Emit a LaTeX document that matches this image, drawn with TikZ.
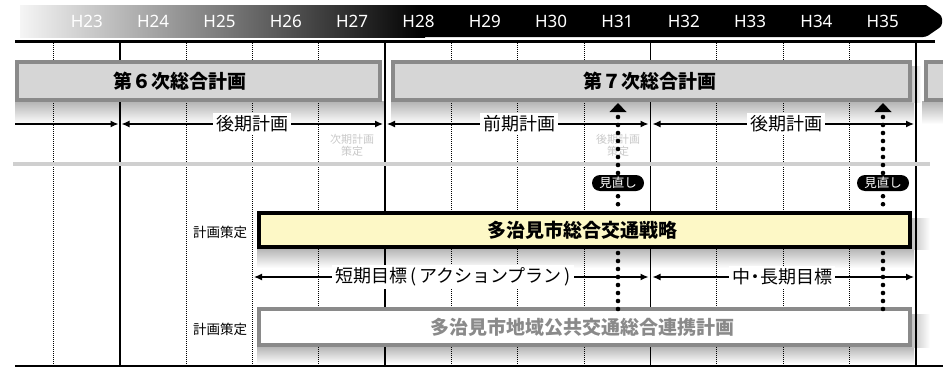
\documentclass[tikz,border=0pt]{standalone}
\usepackage{fontspec}
\setmainfont{Noto Sans CJK JP}
\newfontfamily\latinf{Noto Sans}
\usetikzlibrary{arrows.meta}
\definecolor{boxgrey}{HTML}{D6D6D6}
\definecolor{bordergrey}{HTML}{8A8A8A}
\definecolor{paleyellow}{HTML}{FDF8C6}
\definecolor{fadetext}{HTML}{C8C8C8}
\tikzset{
  yearlbl/.style={text=white,font=\latinf\fontsize{17}{17}\selectfont,inner sep=0pt},
  solidcol/.style={line width=1.3pt},
  majorcol/.style={line width=2.6pt},
  dotcol/.style={line width=1pt,dash pattern=on 1pt off 1pt},
  shadebelow/.style={top color=black!30,bottom color=white},
  shaderight/.style={left color=black!25,right color=white},
  planbox/.style={draw=bordergrey,fill=boxgrey,line width=4pt,inner sep=0pt},
  yellowbox/.style={draw=black,fill=paleyellow,line width=4pt,inner sep=0pt},
  greybox/.style={draw=bordergrey,fill=white,line width=4pt,inner sep=0pt},
  titletxt/.style={font=\fontsize{19}{19}\selectfont\bfseries,inner sep=0pt},
  spanlbl/.style={fill=white,font=\fontsize{18}{18}\selectfont,inner sep=3pt},
  arr/.style={line width=1.3pt,-{Latex[length=8pt,width=7pt]}},
  darr/.style={line width=1.3pt,{Latex[length=8pt,width=7pt]}-{Latex[length=8pt,width=7pt]}},
  bigdots/.style={line width=4.6pt,line cap=round,dash pattern=on 0pt off 8pt},
  badge/.style={fill=black,text=white,rounded corners=8pt,minimum width=52pt,minimum height=16pt,
     inner sep=0pt,font=\fontsize{12.5}{12.5}\selectfont},
  smalllbl/.style={font=\fontsize{13.5}{13.5}\selectfont,inner sep=0pt},
  fadelbl/.style={text=fadetext,font=\fontsize{11}{12}\selectfont,align=center,inner sep=0pt}
}
\begin{document}
\begin{tikzpicture}[x=1pt,y=-1pt]
\useasboundingbox (0,0) rectangle (943,367);
\clip (0,0) rectangle (943,367);
% header band
\shade[left color=gray!8,right color=black] (20,5) rectangle (425,37);
\fill[black] (420,5) -- (926,5) [rounded corners=3pt] -- (942,16) -- (942,26) -- (926,37) [sharp corners] -- (420,37) -- cycle;
\foreach \yy [count=\i from 0] in {23,...,35}
  \node[yearlbl] (h\yy) at (86.8+\i*66.33,21) {H\yy};
% top and bottom rules
\draw[line width=3pt] (15,41.5) -- (935,41.5);
\draw[line width=2pt] (15,366) -- (943,366);
% soft shadows below and right of boxes
\shade[shadebelow] (15,101) rectangle (384,124);
\shade[shadebelow] (391,101) rectangle (914,124);
\shade[shadebelow] (922,101) rectangle (943,124);
\shade[shaderight] (911,66) rectangle (921,102);
\shade[shadebelow] (257,248) rectangle (914,268);
\shade[shaderight] (911,218) rectangle (930,249);
\shade[shadebelow] (257,346) rectangle (914,364);
\shade[shaderight] (911,314) rectangle (930,347);
% column lines
\foreach \c in {0,2,3,4,6,7,8,10,11,12}
  \draw[dotcol] (53.5+\c*66.33,43) -- (53.5+\c*66.33,365);
\draw[solidcol] (120,43) -- (120,365);
\draw[solidcol] (650.5,43) -- (650.5,365);
\draw[majorcol] (385,43) -- (385,365);
\draw[majorcol] (916,43) -- (916,365);
% grey separator
\draw[line width=4pt,gray!38] (13,164) -- (930,164);
% plan boxes
\node[planbox,minimum width=363pt,minimum height=38pt] (p6) at (198.5,81) {};
\node[titletxt] (p6t) at (180,81) {第６次総合計画};
\node[planbox,minimum width=517pt,minimum height=38pt] (p7) at (651.5,81) {};
\node[titletxt] (p7t) at (650,81) {第７次総合計画};
\node[planbox,minimum width=200pt,minimum height=38pt,anchor=west] (p8) at (924,81) {};
% span arrows row 1
\coordinate (s0) at (15,124);
\coordinate (s1) at (118.5,124);
\coordinate (s2) at (121.5,124);
\coordinate (s3) at (383,124);
\coordinate (s4) at (387,124);
\coordinate (s5) at (648.5,124);
\coordinate (s6) at (652.5,124);
\coordinate (s7) at (914,124);
\draw[arr] (s0) -- (s1);
\draw[darr] (s2) -- (s3);
\node[spanlbl] (l1) at (252,124) {後期計画};
\draw[darr] (s4) -- (s5);
\node[spanlbl] (l2) at (519,124) {前期計画};
\draw[darr] (s6) -- (s7);
\node[spanlbl] (l3) at (786,124) {後期計画};
\node[fadelbl] (f1) at (352,145) {次期計画\\策定};
\node[fadelbl] (f2) at (618,145) {後期計画\\策定};
% strategy boxes
\node[yellowbox,minimum width=651pt,minimum height=34pt] (ys) at (584.5,230) {};
\node[titletxt] (yst) at (582,230) {多治見市総合交通戦略};
\node[smalllbl] (c1) at (220,232) {計画策定};
\node[greybox,minimum width=651pt,minimum height=36pt] (gs) at (584.5,327) {};
\node[titletxt,text=bordergrey] (gst) at (582,327) {多治見市地域公共交通総合連携計画};
\node[smalllbl] (c2) at (220,329) {計画策定};
% span arrows row 2
\coordinate (t0) at (254,277);
\coordinate (t1) at (648.5,277);
\coordinate (t2) at (652.5,277);
\coordinate (t3) at (914,277);
\draw[darr] (t0) -- (t1);
\node[spanlbl] (l4) at (453,277) {短期目標\,(\,アクションプラン\,)};
\draw[darr] (t2) -- (t3);
\node[spanlbl] (l5) at (782,277) {中\kern-4pt・\kern-4pt長期目標};
% review markers
\foreach \k/\xx in {a/618,b/883}{
  \coordinate (tri\k) at (\xx,112);
  \fill[black] (tri\k) ++(-8.5,0) -- ++(8.5,-9) -- ++(8.5,9) -- cycle;
  \node[badge] (m\k) at (\xx,183) {見直し};
  \draw[bigdots] (tri\k) ++(0,5) -- (m\k.north);
  \draw[bigdots] (m\k.south) ++(0,5) -- ([yshift=2pt]ys.north -| m\k);
  \draw[bigdots] ([yshift=-4pt]ys.south -| m\k) -- ([yshift=-6pt]gs.north -| m\k);
}
\end{tikzpicture}
\end{document}
